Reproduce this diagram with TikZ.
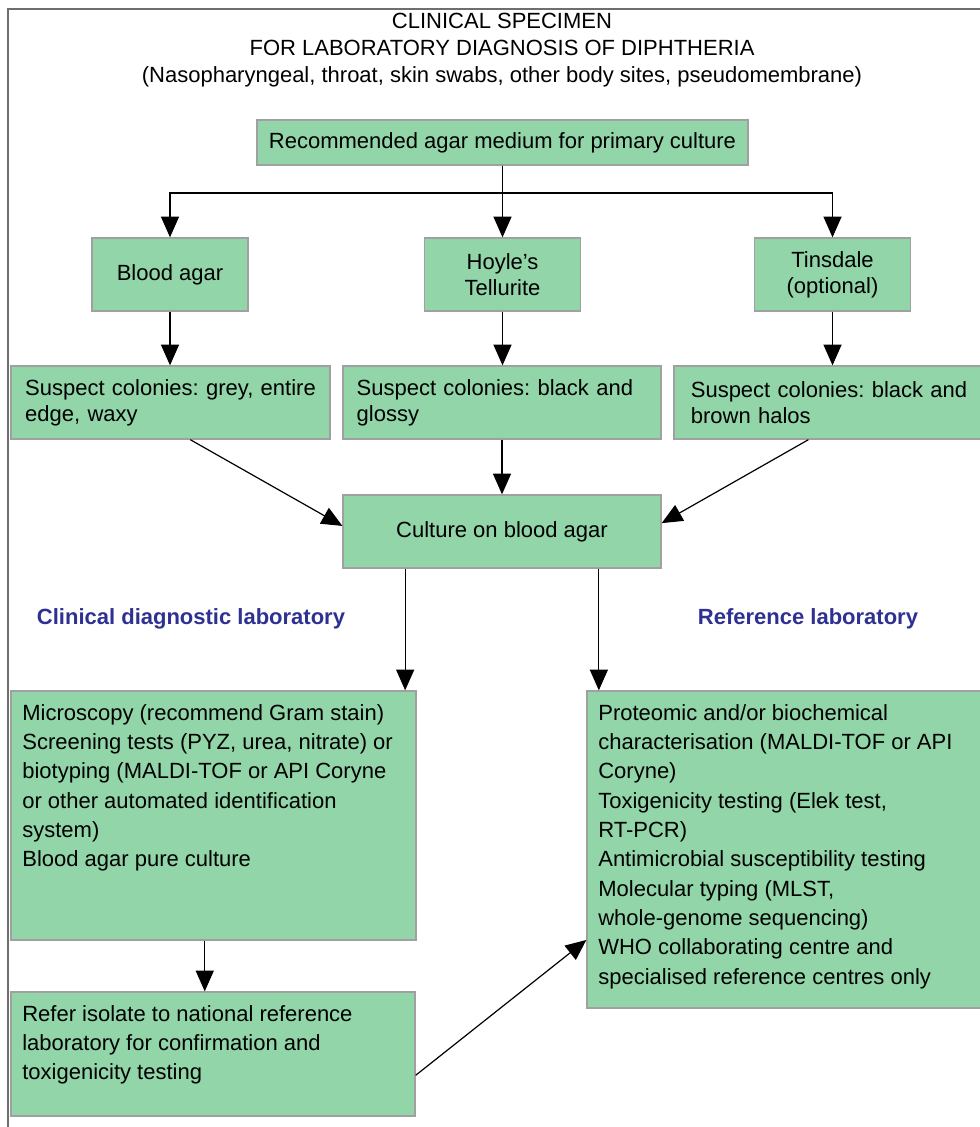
\documentclass[tikz,border=0pt]{standalone}
\usepackage{fontspec}
\setmainfont{Liberation Sans}
\usepackage{xcolor}
\usetikzlibrary{
    arrows.meta,
    positioning
}
\frenchspacing

\definecolor{boxgreen}{RGB}{145,213,168}
\definecolor{boxline}{RGB}{160,160,160}
\definecolor{labblue}{RGB}{46,49,146}
\definecolor{framegray}{RGB}{110,110,110}

\tikzset{
    box/.style={draw=boxline, fill=boxgreen, line width=1pt, inner sep=0pt,
        font=\fontsize{16.5}{19.5}\selectfont},
    bigbox/.style={box, inner xsep=8.5pt, inner ysep=10pt,
        font=\fontsize{16.5}{22}\selectfont},
    arr/.style={-{Triangle[length=15.5pt,width=13.5pt]}, line width=0.9pt, black},
    lab/.style={text=labblue, font=\fontsize{16.5}{20}\selectfont\bfseries},
    frame/.style={framegray, line width=1.3pt}
}

\newcommand{\topblock}[3]{\parbox[c][#1][t]{#2}{\raggedright #3}}

\begin{document}
\begin{tikzpicture}[x=0.75pt, y=-0.75pt]
    \useasboundingbox (0,0) rectangle (979,1127);
    \draw[frame] (995,9) -- (8,9) -- (8,1140);

    \node[align=center, font=\fontsize{16.5}{20}\selectfont] (title) at (502,50)
        {CLINICAL SPECIMEN\\FOR LABORATORY DIAGNOSIS OF DIPHTHERIA\\(Nasopharyngeal, throat, skin swabs, other body sites, pseudomembrane)};

    \node[box, minimum width=368.25pt, minimum height=33.75pt] (medium) at (502.5,142.5)
        {Recommended agar medium for primary culture};

    \node[box, align=center, minimum width=117pt, minimum height=54.75pt] (blood) at (170,274.5) {Blood agar};
    \node[box, align=center, minimum width=117pt, minimum height=54.75pt] (hoyle) at (502.5,274.5) {Hoyle's\\Tellurite};
    \node[box, align=center, minimum width=117pt, minimum height=54.75pt] (tinsdale) at (832.5,274.5) {Tinsdale\\(optional)};

    \node[box, align=left, text width=218pt, minimum width=239.25pt, minimum height=54.75pt] (suspA) at (170.5,402.5)
        {Suspect colonies: grey, entire\\edge, waxy};
    \node[box, align=left, text width=218pt, minimum width=238.5pt, minimum height=54.75pt] (suspB) at (502,402.5)
        {Suspect colonies: black and\\glossy};
    \node[box, align=left, text width=214pt, minimum width=239.25pt, minimum height=54.75pt] (suspC) at (833.5,402.5)
        {Suspect colonies: black and\\brown halos};

    \node[box, minimum width=238.5pt, minimum height=54.75pt] (culture) at (502,531.5) {Culture on blood agar};

    \node[lab] (clinlab) at (191,619) {Clinical diagnostic laboratory};
    \node[lab] (reflab) at (808,619) {Reference laboratory};

    \node[bigbox] (micro) at (213.5,815.5) {\topblock{166.75pt}{286.75pt}{%
        Microscopy (recommend Gram stain)\\
        Screening tests (PYZ, urea, nitrate) or\\
        biotyping (MALDI-TOF or API Coryne\\
        or other automated identification\\
        system)\\
        Blood agar pure culture}};
    \node[bigbox] (refer) at (213,1054) {\topblock{73pt}{286pt}{%
        Refer isolate to national reference\\
        laboratory for confirmation and\\
        toxigenicity testing}};
    \node[bigbox] (confirm) at (789.5,849.5) {\topblock{217.75pt}{286.75pt}{%
        Proteomic and/or biochemical\\
        characterisation (MALDI-TOF or API\\
        Coryne)\\
        Toxigenicity testing (Elek test,\\
        RT-PCR)\\
        Antimicrobial susceptibility testing\\
        Molecular typing (MLST,\\
        whole-genome sequencing)\\
        WHO collaborating centre and\\
        specialised reference centres only}};

    \coordinate (split) at (502.5,193);
    \draw[arr] (medium.south) -- (split) -| (blood.north);
    \draw[arr] (medium.south) -- (split) -| (tinsdale.north);
    \draw[arr] (medium.south) -- (hoyle.north);
    \draw[arr] (blood) -- (blood |- suspA.north);
    \draw[arr] (hoyle) -- (hoyle |- suspB.north);
    \draw[arr] (tinsdale) -- (tinsdale |- suspC.north);
    \draw[arr] (suspA.-62) -- (culture.178);
    \draw[arr] (suspB) -- (culture);
    \draw[arr] (suspC.236) -- (culture.3);
    \draw[arr] (culture.201) -- (culture.201 |- micro.north);
    \draw[arr] (culture.-21) -- (culture.-21 |- confirm.north);
    \draw[arr] (micro.-94) -- (micro.-94 |- refer.north);
    \draw[arr] (refer.-6) -- (confirm.204);
\end{tikzpicture}
\end{document}
